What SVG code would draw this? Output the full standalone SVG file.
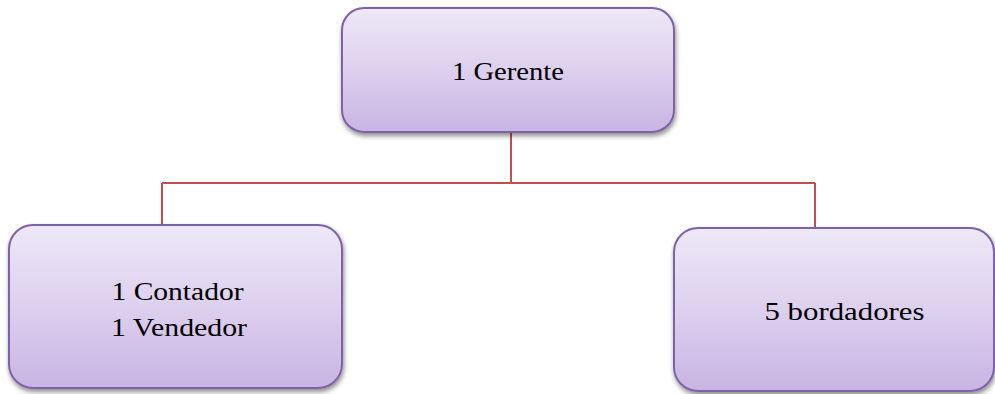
<svg xmlns="http://www.w3.org/2000/svg" width="995" height="394" viewBox="0 0 995 394">
<defs>
<linearGradient id="g" x1="0" y1="0" x2="0" y2="1">
<stop offset="0" stop-color="#EEE8F7"/>
<stop offset="0.5" stop-color="#DDD0EE"/>
<stop offset="1" stop-color="#C8B4E3"/>
</linearGradient>
<filter id="sh" x="-10%" y="-10%" width="120%" height="130%">
<feGaussianBlur in="SourceAlpha" stdDeviation="2.5"/>
<feOffset dx="1" dy="3" result="b"/>
<feComponentTransfer><feFuncA type="linear" slope="0.45"/></feComponentTransfer>
<feMerge><feMergeNode/><feMergeNode in="SourceGraphic"/></feMerge>
</filter>
</defs>
<style>
.box{fill:url(#g);stroke:#7E62A6;stroke-width:2;filter:url(#sh)}
.t{font-family:"Liberation Serif","DejaVu Serif",serif;font-size:26px;fill:#000;text-anchor:middle}
.c{fill:none;stroke:#C0504D;stroke-width:2}
</style>
<g id="connectors">
<path class="c" d="M511 132 V183 M162 183 H815 M162 183 V225 M815 183 V228"/>
</g>
<g id="gerente">
<rect class="box" x="342" y="8" width="332" height="124" rx="22"/>
<text class="t" x="508" y="80" textLength="112" lengthAdjust="spacingAndGlyphs">1 Gerente</text>
</g>
<g id="contador-vendedor">
<rect class="box" x="9" y="225" width="333" height="163" rx="24"/>
<text class="t" x="177.5" y="300" textLength="132" lengthAdjust="spacingAndGlyphs">1 Contador</text>
<text class="t" x="179" y="336" textLength="136" lengthAdjust="spacingAndGlyphs">1 Vendedor</text>
</g>
<g id="bordadores">
<rect class="box" x="674" y="228" width="320" height="163" rx="24"/>
<text class="t" x="844.5" y="320" textLength="160" lengthAdjust="spacingAndGlyphs">5 bordadores</text>
</g>
</svg>
